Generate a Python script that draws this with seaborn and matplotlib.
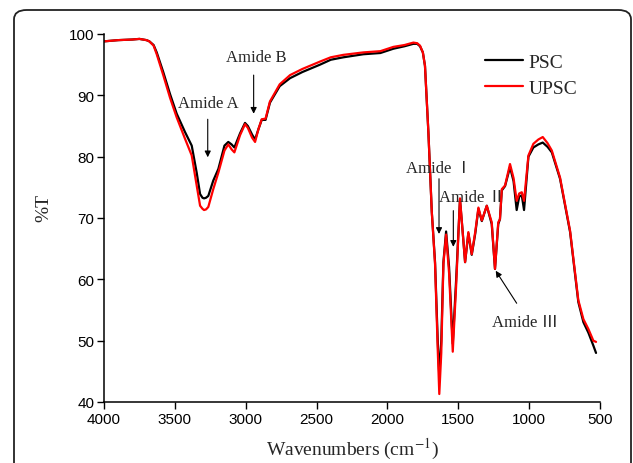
import matplotlib
matplotlib.use("Agg")
import matplotlib.pyplot as plt
from matplotlib.patches import FancyBboxPatch
import seaborn as sns
import pandas as pd

# ---- data ----
wavenumber = [4000, 3900, 3800, 3750, 3700, 3680, 3650, 3628, 3582, 3534, 3487, 3428,
              3381, 3346, 3322, 3305, 3294, 3280, 3264, 3229, 3193, 3150, 3123, 3100,
              3080, 3040, 3005, 2985, 2955, 2934, 2910, 2887, 2860, 2829, 2760, 2687,
              2600, 2476, 2400, 2311, 2170, 2050, 1958, 1880, 1817, 1790, 1770, 1750,
              1735, 1711, 1687, 1664, 1645, 1634, 1620, 1605, 1586, 1565, 1539, 1515,
              1488, 1470, 1452, 1429, 1405, 1380, 1358, 1334, 1299, 1264, 1241, 1218,
              1206, 1193, 1170, 1135, 1110, 1088, 1070, 1052, 1036, 1005, 970, 935,
              904, 870, 840, 782, 711, 653, 617, 582, 547, 528]

psc = [98.8, 99.0, 99.1, 99.2, 99.0, 98.8, 98.2, 97.0, 93.8, 90.2, 87.0, 84.0,
       81.8, 77.4, 73.9, 73.3, 73.2, 73.3, 73.6, 76.1, 78.0, 81.8, 82.4, 82.0,
       81.5, 83.8, 85.5, 85.0, 83.6, 82.8, 84.5, 86.0, 86.0, 88.8, 91.5, 92.8,
       93.8, 95.0, 95.8, 96.2, 96.7, 96.9, 97.6, 98.0, 98.4, 98.4, 98.0, 97.0,
       94.8, 84.0, 71.0, 62.8, 50.0, 44.2, 50.0, 62.8, 67.8, 62.0, 49.5, 60.0,
       73.0, 68.0, 62.8, 67.5, 64.0, 67.5, 71.5, 69.5, 72.0, 69.0, 61.7, 69.0,
       69.8, 74.5, 75.2, 78.3, 76.0, 71.3, 73.5, 73.7, 71.3, 80.0, 81.5, 82.0,
       82.3, 81.6, 80.7, 76.4, 67.7, 56.3, 53.0, 51.3, 49.2, 48.0]

upsc = [98.8, 99.0, 99.1, 99.2, 99.0, 98.8, 98.1, 96.7, 93.3, 89.6, 86.4, 82.9,
        80.2, 75.3, 72.0, 71.5, 71.3, 71.4, 71.8, 74.7, 77.4, 81.0, 82.0, 81.2,
        80.7, 83.5, 85.3, 84.7, 83.1, 82.4, 84.5, 86.1, 86.2, 89.0, 91.8, 93.3,
        94.3, 95.5, 96.2, 96.6, 97.0, 97.2, 97.9, 98.2, 98.6, 98.5, 98.1, 97.0,
        94.8, 84.0, 71.0, 62.5, 48.5, 41.3, 48.0, 62.5, 67.3, 61.0, 48.2, 59.0,
        73.2, 68.0, 62.8, 67.7, 64.1, 67.8, 71.7, 69.6, 72.0, 69.3, 61.7, 69.3,
        69.8, 74.7, 75.3, 78.8, 76.5, 72.8, 74.0, 74.2, 72.8, 80.2, 82.1, 82.8,
        83.2, 82.2, 81.0, 76.6, 67.9, 56.6, 53.5, 51.9, 50.0, 49.8]

series_names = ["PSC", "UPSC"]
series_colors = ["black", "red"]
x_ticks = [4000, 3500, 3000, 2500, 2000, 1500, 1000, 500]
y_ticks = [40, 50, 60, 70, 80, 90, 100]

df = pd.concat([
    pd.DataFrame({"wn": wavenumber, "T": psc, "sample": "PSC"}),
    pd.DataFrame({"wn": wavenumber, "T": upsc, "sample": "UPSC"}),
], ignore_index=True)

sns.set_theme(style="ticks")
plt.rcParams["font.family"] = ["Liberation Sans", "DejaVu Sans"]
plt.rcParams["mathtext.fontset"] = "stix"

fig = plt.figure(figsize=(6.33, 4.64), dpi=100)
ax = fig.add_axes([104 / 633, 1 - 403 / 464, 496 / 633, 368 / 464])

sns.lineplot(data=df, x="wn", y="T", hue="sample", hue_order=series_names,
             palette=dict(zip(series_names, series_colors)), sort=False,
             estimator=None, lw=1.6, ax=ax)
for line in ax.get_lines():
    line.set_solid_joinstyle("round")

ax.set_xlim(4000, 500)
ax.set_ylim(40, 100)
ax.set_xticks(x_ticks)
ax.set_yticks(y_ticks)
ax.tick_params(axis="both", direction="out", length=5, width=1, labelsize=11,
               colors="black", pad=2)
for s in ["top", "right"]:
    ax.spines[s].set_visible(False)
for s in ["left", "bottom"]:
    ax.spines[s].set_linewidth(1.1)
    ax.spines[s].set_color("black")

serif = ["Liberation Serif", "DejaVu Serif"]
ax.set_xlabel(r"Wavenumbers (cm$^{-1}$)", family=serif, fontsize=14, labelpad=7)
ax.set_ylabel("%T", family=serif, fontsize=14)
ax.yaxis.set_label_coords(-0.105, 0.53)

leg = ax.legend(loc="upper left", bbox_to_anchor=(0.768, 0.948), frameon=False,
                prop={"family": serif, "size": 14}, handlelength=1.95,
                handletextpad=0.3, labelspacing=0.45, borderpad=0, borderaxespad=0)

ann_font = ["Liberation Serif", "Noto Sans CJK SC", "DejaVu Serif"]
arrow = dict(arrowstyle="-|>", color="black", lw=0.8, mutation_scale=9,
             shrinkA=0, shrinkB=0)

ax.text(3266, 88.8, "Amide A", family=ann_font, fontsize=12, ha="center", va="center")
ax.annotate("", xy=(3268, 79.9), xytext=(3268, 86.1), arrowprops=arrow)
ax.text(2923, 96.25, "Amide B", family=ann_font, fontsize=12, ha="center", va="center")
ax.annotate("", xy=(2944, 87.0), xytext=(2944, 93.3), arrowprops=arrow)
ax.text(1636, 78.2, "Amide Ⅰ", family=ann_font, fontsize=12, ha="center", va="center")
ax.annotate("", xy=(1636, 67.4), xytext=(1636, 76.4), arrowprops=arrow)
ax.text(1403, 73.4, "Amide Ⅱ", family=ann_font, fontsize=12, ha="center", va="center")
ax.annotate("", xy=(1535, 65.3), xytext=(1535, 71.2), arrowprops=arrow)
ax.text(1029, 53.0, "Amide Ⅲ", family=ann_font, fontsize=12, ha="center", va="center")
ax.annotate("", xy=(1236, 61.4), xytext=(1088, 56.1), arrowprops=arrow)

# rounded panel frame
frame = FancyBboxPatch((14 / 633, -0.1), (631 - 14) / 633, 1 - 11 / 464 + 0.1,
                       boxstyle="round,pad=0,rounding_size=0.02",
                       transform=fig.transFigure, fill=False,
                       edgecolor="#222222", lw=1.3, clip_on=False)
fig.patches.append(frame)

fig.savefig("out.png", dpi=100)
